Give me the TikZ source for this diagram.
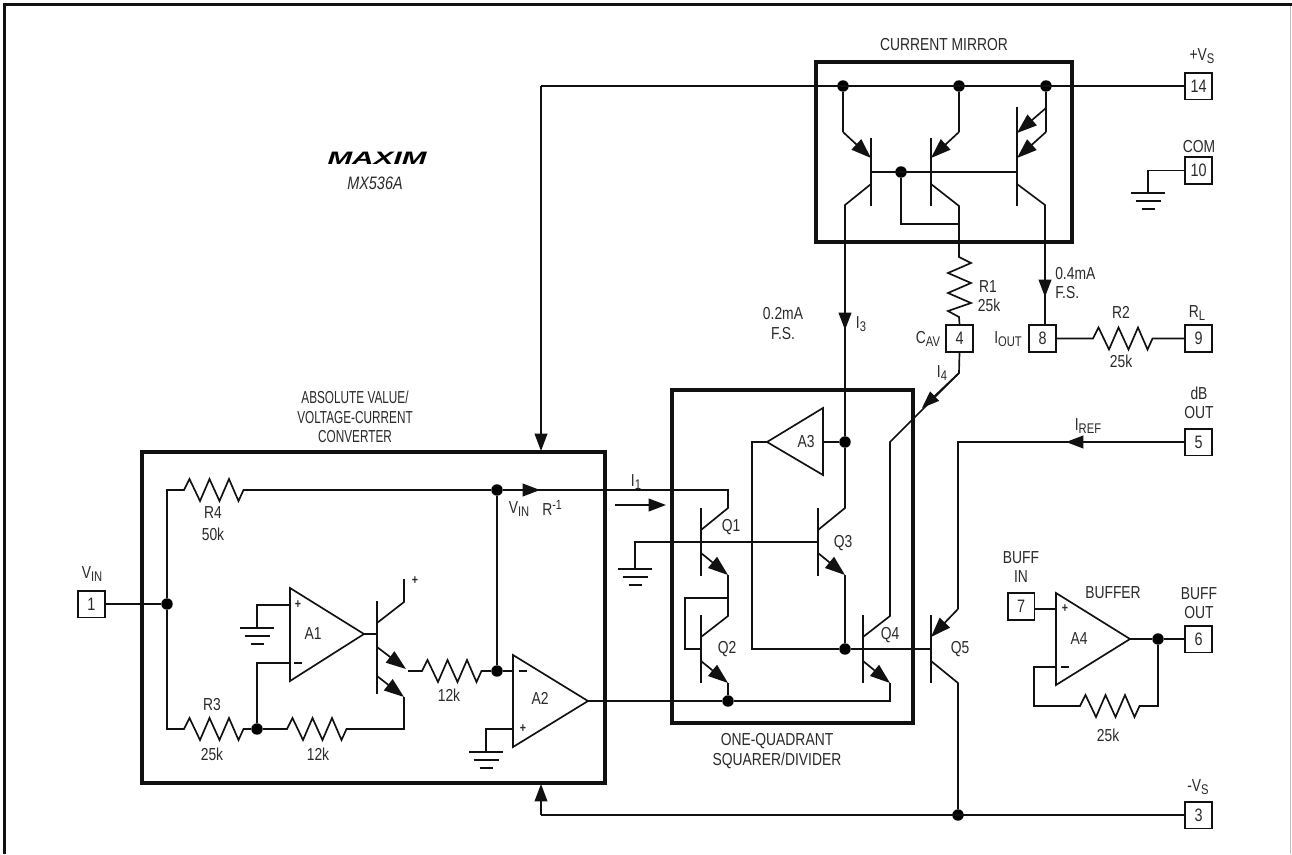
\documentclass[tikz,border=0pt]{standalone}
\usepackage{fontspec}
\usetikzlibrary{arrows.meta}
\setmainfont{Liberation Sans}[FakeStretch=0.80]
\newfontfamily\logofont{Liberation Sans}[FakeStretch=1.65]
\newfontfamily\narrowfont{Liberation Sans}[FakeStretch=0.68]
\definecolor{ink}{HTML}{111111}
\definecolor{txt}{HTML}{2A2A2A}
\newcommand{\sbs}[1]{\raisebox{-2.6pt}{\fontsize{10.5}{10.5}\selectfont #1}}
\tikzset{
  wire/.style={draw=ink,line width=1.25pt,line cap=butt,line join=miter},
  heavy/.style={draw=ink,line width=2.8pt},
  pinbox/.style={draw=ink,line width=1.25pt,minimum width=20pt,minimum height=20pt,inner sep=0pt,text=txt,font=\fontsize{13.5}{13.5}\selectfont},
  dotn/.style={circle,fill=black,inner sep=0pt,minimum size=8.6pt},
  lab/.style={text=txt,inner sep=0pt,font=\fontsize{13}{14.6}\selectfont},
  arr/.style={wire,-{Triangle[length=13pt,width=9.5pt]}},
  earr/.style={wire,-{Triangle[length=15pt,width=10.5pt]}},
}
\newcommand{\gnd}[2]{%
  \draw[wire] (#1-17,#2) -- (#1+17,#2) (#1-12.5,#2+8) -- (#1+12.5,#2+8) (#1-6.5,#2+16) -- (#1+6.5,#2+16);}
\newcommand{\hres}[2]{--(#1+5.5,#2-11)--(#1+16,#2+11)--(#1+25.5,#2-11)--(#1+35.5,#2+11)--(#1+45,#2-11)--(#1+54.5,#2+11)--(#1+59.5,#2)}
\begin{document}
\begin{tikzpicture}[x=0.75pt,y=-0.75pt]
\useasboundingbox (0,0) rectangle (1292,854);
\fill[white] (0,0) rectangle (1292,854);
\draw[draw=ink,line width=2.2pt] (4.5,854) -- (4.5,4.5) -- (1292,4.5);
\draw[draw=black!25,line width=0.75pt] (1290.8,6) -- (1290.8,854);
% blocks
\node[heavy,minimum width=192pt,minimum height=135pt,inner sep=0pt] (mirror) at (944,152) {};
\node[heavy,minimum width=180.75pt,minimum height=249.75pt,inner sep=0pt] (squarer) at (792.5,556.5) {};
\node[heavy,minimum width=347.25pt,minimum height=248.25pt,inner sep=0pt] (absblock) at (373.5,617.5) {};
% pins
\node[pinbox] (p14) at (1198.5,86) {14};
\node[pinbox] (p10) at (1198.5,170.5) {10};
\node[pinbox] (p4) at (959.5,338.5) {4};
\node[pinbox] (p8) at (1042.5,338.5) {8};
\node[pinbox] (p9) at (1198.5,338.5) {9};
\node[pinbox] (p5) at (1198.5,442) {5};
\node[pinbox] (p7) at (1021,606.5) {7};
\node[pinbox] (p6) at (1198.5,639) {6};
\node[pinbox] (p3) at (1198.5,815) {3};
\node[pinbox] (p1) at (91.5,604) {1};
% junctions
\foreach \n/\x/\y in {d1/843/86,d2/959/86,d3/1046/86,d4/901/172,dA3/845/442,dQ/845/649,dIn/167/604,dV/497/490,dM/497/671,dR3/257/729,dO/728/701,dB/1158/639,dV3/958/815}
  \node[dotn] (\n) at (\x,\y) {};
% current mirror
\draw[wire] (p14.west) -- (541,86);
\draw[arr] (541,86) -- (541,451);
\draw[wire] (d1) -- (843,132);
\draw[earr] (843,132) -- (871,158);
\draw[wire] (d2) -- (959,132);
\draw[earr] (959,132) -- (931,158);
\draw[wire] (d3) -- (1046,108);
\draw[earr] (1046,108) -- (1017,133);
\draw[wire] (1046,108) -- (1046,132);
\draw[earr] (1046,132) -- (1017,158);
\foreach \x in {871,931} \draw[wire] (\x,138) -- (\x,206);
\draw[wire] (1017,107) -- (1017,206);
\draw[wire] (871,172) -- (1017,172);
\draw[wire] (871,184) -- (845,205) -- (dA3);
\draw[arr] (845,240) -- (845,330);
\draw[wire] (931,184) -- (959,206) -- (959,257) -- (971,263) -- (948,273) -- (971,283) -- (948,293) -- (971,303) -- (948,311) -- (959,317) -- (p4.north);
\draw[wire] (d4) |- (959,224);
\draw[wire] (1017,184) -- (1045,205) -- (1045,280);
\draw[arr] (1045,260) -- (1045,297);
\draw[wire] (1045,290) -- (p8.north -| 1045,0);
\draw[wire] (p10.west) -- (1148,170.5) -- (1148,193);
\gnd{1148}{193}
% resistor R2
\draw[wire] (p8.east) -- (1093,338.5) \hres{1093}{338.5} -- (p9.west);
% I4
\draw[wire] (p4.south) -- (959,373) -- (890,442) -- (890,616) -- (863,637);
\draw[arr] (959,373) -- (922,408);
% squarer
\draw[wire] (767,442) -- (823,408) -- (823,475) -- cycle;
\draw[wire] (823,442) -- (dA3);
\draw[wire] (dA3) -- (845,508) -- (818,530);
\draw[wire] (818,508) -- (818,576);
\draw[wire] (635,569) -- (635,542) -- (818,542);
\gnd{635}{569}
\draw[earr] (818,553) -- (845,575);
\draw[wire] (845,575) -- (dQ);
\draw[wire] (767,442) -| (752,649) -- (dQ);
\draw[wire] (dQ) -- (931,649);
\draw[wire] (863,615) -- (863,683);
\draw[earr] (863,661) -- (890,683);
\draw[wire] (890,683) -- (890,701) -- (dO);
\draw[wire] (701,508) -- (701,576);
\draw[wire] (701,615) -- (701,683);
\draw[wire] (701,530) -- (728,508) -- (728,490) -- (dV);
\draw[earr] (701,553) -- (728,575);
\draw[wire] (728,575) -- (728,616) -- (701,637);
\draw[wire] (728,598) -- (685,598) -- (685,649) -- (701,649);
\draw[earr] (701,661) -- (728,683);
\draw[wire] (728,683) -- (dO);
\draw[arr] (615,505) -- (666,505);
% Q5
\draw[wire] (931,615) -- (931,683);
\draw[wire] (p5.west) -- (958,442) -- (958,609);
\draw[earr] (958,609) -- (931,637);
\draw[wire] (931,661) -- (958,683) -- (dV3);
\draw[arr] (1085,442) -- (1066,442);
\draw[wire] (p3.west) -- (541,815);
\draw[arr] (541,815) -- (541,784);
% abs block
\draw[wire] (p1.east) -- (dIn);
\draw[wire] (dIn) -- (167,490) -- (184,490) \hres{184}{490} -- (dV);
\draw[wire] (dV) -- (dM);
\draw[arr] (dV) -- (540,490);
\draw[wire] (dIn) -- (167,729) -- (184,729) \hres{184}{729} -- (dR3);
\draw[wire] (dR3) -- (287,729) \hres{287}{729} -- (404,729) -- (404,697);
\draw[wire] (dR3) |- (290,663);
\draw[wire] (290,588) -- (364,634) -- (290,681) -- cycle;
\draw[wire] (364,634) -- (377,634);
\draw[wire] (290,605) -- (257,605) -- (257,628);
\gnd{257}{628}
\draw[wire] (377,601) -- (377,694);
\draw[wire] (377,623) -- (404,602) -- (404,579);
\draw[earr] (377,647) -- (406,669);
\draw[earr] (377,676) -- (404,697);
\draw[wire] (408,671) -- (422,671) \hres{422}{671} -- (dM);
\draw[wire] (513,655) -- (588,701) -- (513,747) -- cycle;
\draw[wire] (dM) -- (513,671);
\draw[wire] (513,729) -- (486,729) -- (486,752);
\gnd{486}{752}
\draw[wire] (588,701) -- (dO);
% buffer
\draw[wire] (1056,593) -- (1130,639) -- (1056,685) -- cycle;
\coordinate (a4p) at (1056,609);
\draw[wire] (p7.east |- a4p) -- (a4p);
\draw[wire] (1130,639) -- (dB) -- (p6.west);
\draw[wire] (1056,667) -- (1034,667) -- (1034,706) -- (1080,706) \hres{1080}{706} -- (1158,706) -- (dB);
% signs
\foreach \x/\y in {298/605,523/729,1065/609} \node[lab,font=\bfseries\fontsize{10}{10}\selectfont] (plus\x) at (\x,\y) {+};
\node[lab,font=\bfseries\fontsize{10}{10}\selectfont] (plusT) at (415,581) {+};
\foreach \x/\y in {298/663,523/671,1065/667} \draw[wire] (\x-4,\y) -- (\x+4,\y);
% labels
\node[lab] (tMirror) at (944,45) {CURRENT MIRROR};
\node[lab] at (1202,56) {+V\sbs{S}};
\node[lab] at (1199,147) {COM};
\node[lab,align=center,font=\narrowfont\fontsize{13}{14.6}\selectfont] at (355,417) {ABSOLUTE VALUE/\\VOLTAGE-CURRENT\\CONVERTER};
\node[lab,align=center] at (777,751) {ONE-QUADRANT\\SQUARER/DIVIDER};
\node[lab,align=center] at (1199,403) {dB\\OUT};
\node[lab,align=center] at (1021,567) {BUFF\\IN};
\node[lab,align=center] at (1199,603) {BUFF\\OUT};
\node[lab] at (1113,593) {BUFFER};
\node[lab] at (1108,735) {25k};
\node[lab] at (1198,787) {-V\sbs{S}};
\node[lab] at (92,574) {V\sbs{IN}};
\node[lab] at (519,509) {V\sbs{IN}};
\node[lab] at (552,508) {R\raisebox{4pt}{\fontsize{10}{10}\selectfont -1}};
\node[lab] at (636,482) {I\sbs{1}};
\node[lab] at (1088,426) {I\sbs{REF}};
\node[lab] at (783,314) {0.2mA};
\node[lab] at (783,334) {F.S.};
\node[lab] at (861,324) {I\sbs{3}};
\node[lab] at (942,373) {I\sbs{4}};
\node[lab,anchor=west] at (1055,274) {0.4mA};
\node[lab,anchor=west] at (1055,293) {F.S.};
\node[lab] at (988,287) {R1};
\node[lab] at (989,305) {25k};
\node[lab] at (928,339) {C\sbs{AV}};
\node[lab] at (1008,339) {I\sbs{OUT}};
\node[lab] at (1121,312) {R2};
\node[lab] at (1121,361) {25k};
\node[lab] at (1197,313) {R\sbs{L}};
\node[lab] at (213,513) {R4};
\node[lab] at (213,534) {50k};
\node[lab] at (212,705) {R3};
\node[lab] at (212,754) {25k};
\node[lab] at (318,754) {12k};
\node[lab] at (449,695) {12k};
\node[lab] at (313,634) {A1};
\node[lab] at (540,698) {A2};
\node[lab] at (806,442) {A3};
\node[lab] at (1079,639) {A4};
\node[lab] at (731,527) {Q1};
\node[lab] at (727,649) {Q2};
\node[lab] at (843,543) {Q3};
\node[lab] at (890,635) {Q4};
\node[lab] at (960,649) {Q5};
\node[lab,font=\logofont\bfseries\itshape\fontsize{13.5}{13.5}\selectfont,text=black] at (377,158) {MAXIM};
\node[lab,font=\itshape\fontsize{13.5}{13.5}\selectfont] at (375,183) {MX536A};
\end{tikzpicture}
\end{document}
